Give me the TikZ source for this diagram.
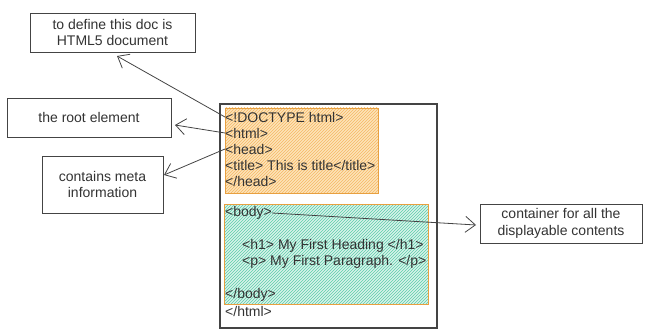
\documentclass[tikz,border=0pt]{standalone}
\usepackage{fontspec}
\setmainfont{Liberation Sans}
\usetikzlibrary{arrows.meta,patterns}
\definecolor{txt}{HTML}{333333}
\definecolor{boxline}{HTML}{444444}
\definecolor{orangeline}{HTML}{E8A040}
\definecolor{orangefill}{HTML}{FDE3B8}
\definecolor{orangehatch}{HTML}{F5B865}
\definecolor{greenhatch}{HTML}{5CCCAA}
\definecolor{greenfill}{HTML}{D8F3EA}
\tikzset{
  note/.style={draw=boxline, line width=0.9pt, fill=white, align=center, font=\fontsize{14}{16.5}\selectfont, text=txt, inner sep=0pt},
  code/.style={anchor=west, inner sep=0pt, font=\fontsize{14}{16}\selectfont, text=txt},
  arr/.style={draw=boxline, line width=0.8pt, -{Straight Barb[length=10pt,width=16pt,line width=0.8pt]}},
}
\begin{document}
\begin{tikzpicture}[x=1pt,y=-1pt]
\useasboundingbox (0,0) rectangle (650,334);
% outer html box
\draw[boxline, line width=1.1pt] (220,104) rectangle (437,328);
% head area
\fill[orangefill] (225,108) rectangle (378,193);
\fill[pattern=north east lines, pattern color=orangehatch] (225,108) rectangle (378,193);
\draw[orangeline, line width=0.9pt] (225,108) rectangle (378,193);
% body area
\fill[greenfill] (224,204) rectangle (428,304);
\fill[pattern=north east lines, pattern color=greenhatch] (224,204) rectangle (428,304);
\draw[orangeline, line width=0.9pt] (224,204) rectangle (428,304);
% code text
\node[code] (doctype) at (225,117) {<!DOCTYPE html>};
\node[code] (html) at (225,133) {<html>};
\node[code] (head) at (225,149) {<head>};
\node[code] (title) at (225,165) {<title> This is title</title>};
\node[code] (endhead) at (225,181) {</head>};
\node[code] (body) at (225,213) {<body>};
\node[code] (h1) at (242,246) {<h1> My First Heading </h1>};
\node[code] (p) at (242,262) {<p> My First Paragraph. </p>};
\node[code] (endbody) at (225,295) {</body>};
\node[code] (endhtml) at (225,311) {</html>};
% notes
\node[note, minimum width=165pt, minimum height=39pt] (n1) at (112.5,32.5) {to define this doc is\\HTML5 document};
\node[note, minimum width=164pt, minimum height=39pt] (n2) at (89,117.5) {the root element};
\node[note, minimum width=121pt, minimum height=57pt] (n3) at (102.5,184.5) {contains meta\\information};
\node[note, minimum width=162pt, minimum height=39pt] (n4) at (561,223.5) {container for all the\\displayable contents};
% arrows
\coordinate (a1) at (117,56);
\coordinate (a2) at (175,125);
\coordinate (a3) at (164,175);
\coordinate (a4) at (476,225);
\draw[arr] (doctype.west) -- (a1);
\draw[arr] (html.west) -- (a2);
\draw[arr] (head.west) -- (a3);
\draw[arr] (body.east) -- (a4);
\end{tikzpicture}
\end{document}
